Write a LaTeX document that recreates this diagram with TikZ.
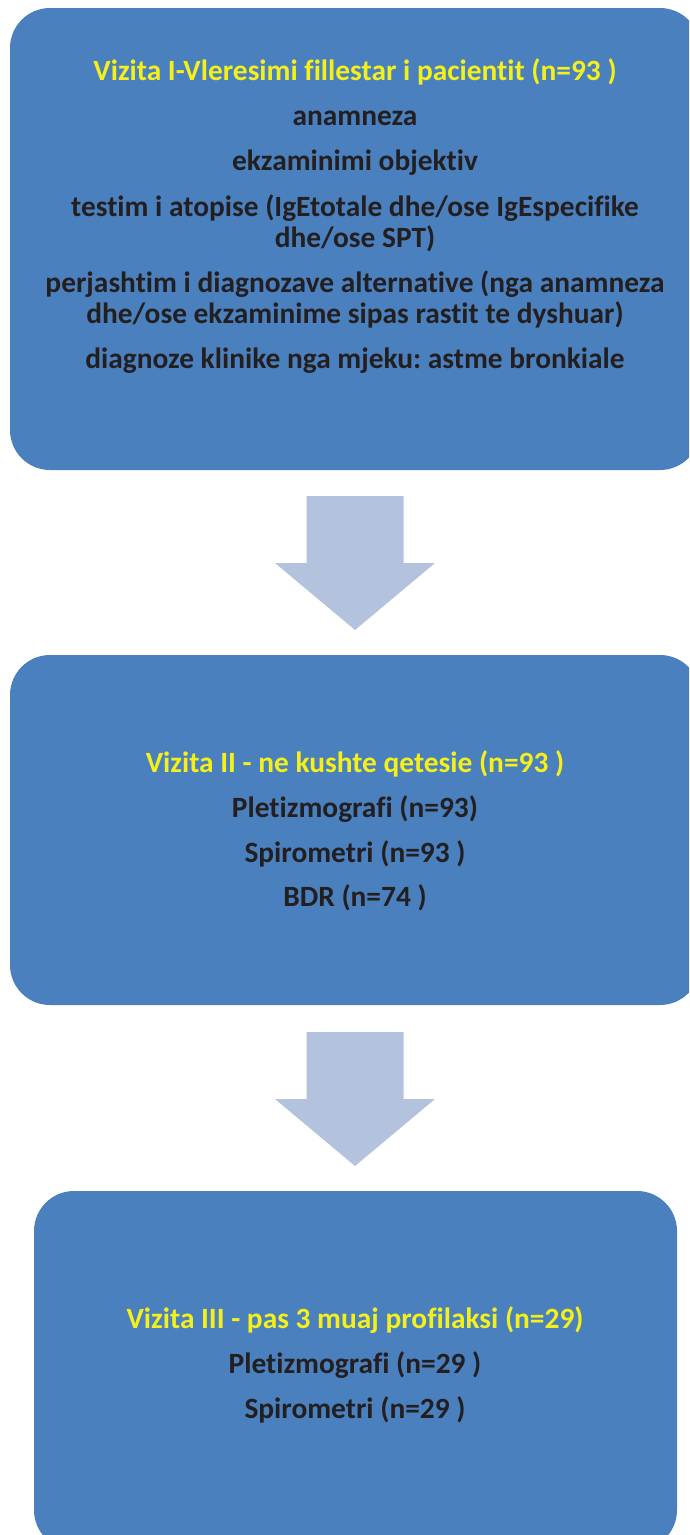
\documentclass[tikz,border=0pt]{standalone}
\usepackage{fontspec}
\setmainfont{Carlito}[Ligatures=NoCommon]
\frenchspacing
\definecolor{boxblue}{RGB}{74,128,190}
\definecolor{arrowblue}{RGB}{179,195,222}
\definecolor{headyellow}{RGB}{245,240,25}
\definecolor{textdark}{RGB}{35,31,32}

\begin{document}
\begin{tikzpicture}[x=1pt, y=-1pt,
	box/.style={fill=boxblue, rounded corners=40pt, inner sep=0pt},
	headtxt/.style={anchor=base, inner sep=0pt, text=headyellow, font=\bfseries\fontsize{29.4}{35}\selectfont},
	bodytxt/.style={headtxt, text=textdark}]
	\useasboundingbox (0,0) rectangle (689,1535);
	\clip (0,0) rectangle (689,1535);
	% boxes
	\node[box, minimum width=690pt, minimum height=462pt] (visit1) at (355,239) {};
	\node[box, minimum width=690pt, minimum height=350pt] (visit2) at (355,830) {};
	\node[box, minimum width=643pt, minimum height=359pt] (visit3) at (355.5,1370.5) {};
	% arrows
	\coordinate (arr1) at (355,496);
	\coordinate (arr2) at (355,1032);
	\fill[arrowblue] (arr1) ++(-48.5,0) -- ++(97,0) -- ++(0,67) -- ++(31.5,0) -- ++(-80,67) -- ++(-80,-67) -- ++(31.5,0) -- cycle;
	\fill[arrowblue] (arr2) ++(-48.5,0) -- ++(97,0) -- ++(0,67) -- ++(31.5,0) -- ++(-80,67) -- ++(-80,-67) -- ++(31.5,0) -- cycle;
	% visit I
	\node[headtxt] (v1head) at (355,80) {Vizita I-Vleresimi fillestar i pacientit (n=93 )};
	\node[bodytxt] (v1a) at (355,125) {anamneza};
	\node[bodytxt] (v1b) at (355,170) {ekzaminimi objektiv};
	\node[bodytxt] (v1c) at (355,216) {testim i atopise (IgEtotale dhe/ose IgEspecifike};
	\node[bodytxt] (v1d) at (355,247) {dhe/ose SPT)};
	\node[bodytxt] (v1e) at (355,292) {perjashtim i diagnozave alternative (nga anamneza};
	\node[bodytxt] (v1f) at (355,323) {dhe/ose ekzaminime sipas rastit te dyshuar)};
	\node[bodytxt] (v1g) at (355,368) {diagnoze klinike nga mjeku: astme bronkiale};
	% visit II
	\node[headtxt] (v2head) at (355,772) {Vizita II - ne kushte qetesie (n=93 )};
	\node[bodytxt] (v2a) at (355,817) {Pletizmografi (n=93)};
	\node[bodytxt] (v2b) at (355,862) {Spirometri (n=93 )};
	\node[bodytxt] (v2c) at (355,906) {BDR (n=74 )};
	% visit III
	\node[headtxt] (v3head) at (355,1328) {Vizita III - pas 3 muaj profilaksi (n=29)};
	\node[bodytxt] (v3a) at (355,1373) {Pletizmografi (n=29 )};
	\node[bodytxt] (v3b) at (355,1418) {Spirometri (n=29 )};
\end{tikzpicture}
\end{document}
